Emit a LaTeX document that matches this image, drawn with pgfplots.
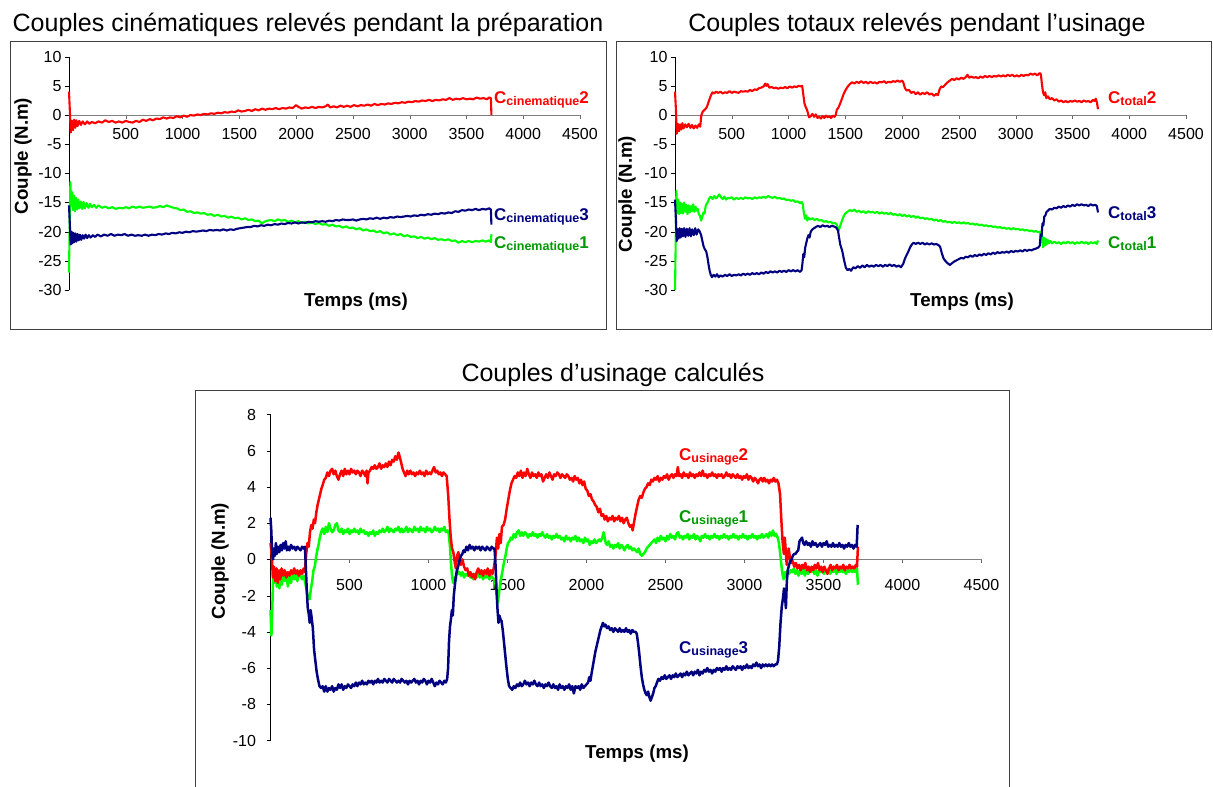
\documentclass[border=0pt]{standalone}
\usepackage{pgfplots}
\pgfplotsset{compat=1.18}
\usepackage{fontspec}
\setmainfont{Liberation Sans}
\definecolor{cred}{HTML}{FF0000}
\definecolor{cnavy}{HTML}{000080}
\definecolor{cgreen}{HTML}{00FF00}
\definecolor{lgreen}{HTML}{009900}
\definecolor{framegray}{HTML}{404040}

\newcommand{\serie}[2]{\fontsize{17}{17}\selectfont\bfseries C\raisebox{-2.5pt}{\fontsize{12.5}{12}\selectfont #1}#2}
\newcommand{\titre}{\fontsize{25}{25}\selectfont}
\newcommand{\axt}{\fontsize{18.7}{19}\selectfont\bfseries}

\pgfplotsset{
  panel/.style={
    scale only axis, clip=false,
    axis x line=middle, axis y line=left, axis line style={-},
    x axis line style={black!50}, y axis line style={black},
    xmin=0, xmax=4500, xtick={500,1000,...,4500},
    tick align=outside, major tick length=4pt,
    xtick style={black!60}, ytick style={black},
    tick label style={font=\fontsize{16}{16}\selectfont},
    /pgf/number format/assume math mode=true,
    /pgf/number format/1000 sep={},
    scaled ticks=false,
    every axis plot/.append style={line width=2.1pt, line join=round},
  }
}

\begin{document}
\begin{tikzpicture}
\useasboundingbox (0,0) rectangle (1213pt,-787pt);

% ---------- panneau 1 : couples cinematiques ----------
\draw[framegray, line width=1pt] (10pt,-41pt) rectangle (606pt,-329pt);
\node[anchor=base] at (308pt,-31pt) {\titre Couples cinématiques relevés pendant la préparation};
\begin{axis}[panel, at={(69pt,-290pt)}, anchor=south west,
  width=511pt, height=233.3pt, ymin=-30, ymax=10, ytick={-30,-25,...,10},
  xticklabel style={yshift=-6pt}]
\addplot[cgreen] coordinates {
(0,-27.0) (5,-20) (12,-11.5) (20,-15.5) (28,-13.2) (36,-16.3) (44,-13.8) (52,-16.5) (62,-14.2) (72,-16.2) (82,-14.5) (92,-16.0) (104,-14.8) (116,-16.1) (128,-14.9) (140,-16.0) (155,-15.1) (170,-15.9) (185,-15.2) (200,-15.8) (220,-15.4) (240,-15.9) (260,-15.5) (290,-15.9) (320,-15.7) (350,-16.0) (380,-15.8) (410,-16.1) (440,-15.9) (470,-16.0) (500,-15.8) (530,-16.0) (560,-15.7) (590,-15.9) (620,-15.7) (650,-15.9) (680,-15.8) (710,-15.7) (740,-15.9) (770,-15.8) (800,-15.6) (830,-15.8) (860,-15.5) (890,-15.7) (920,-15.9) (950,-16.0) (980,-16.3) (1010,-16.2) (1040,-16.6) (1070,-16.5) (1100,-16.8) (1130,-16.7) (1160,-16.9) (1190,-16.8) (1220,-17.1) (1250,-17.0) (1280,-17.3) (1310,-17.1) (1340,-17.4) (1370,-17.3) (1400,-17.6) (1430,-17.4) (1460,-17.7) (1490,-17.6) (1520,-17.9) (1550,-17.7) (1580,-18.0) (1610,-17.9) (1640,-18.2) (1670,-18.1) (1700,-18.6) (1720,-18.3) (1750,-18.1) (1780,-18.0) (1810,-18.2) (1840,-17.9) (1870,-18.1) (1900,-18.0) (1930,-18.3) (1960,-18.1) (1990,-18.4) (2020,-18.2) (2050,-18.5) (2080,-18.3) (2110,-18.6) (2140,-18.4) (2170,-18.7) (2200,-18.5) (2230,-18.8) (2260,-18.7) (2290,-19.0) (2320,-18.8) (2350,-19.1) (2380,-19.0) (2410,-19.3) (2440,-19.1) (2470,-19.4) (2500,-19.3) (2530,-19.6) (2560,-19.4) (2590,-19.8) (2620,-19.6) (2650,-19.9) (2680,-19.8) (2710,-20.1) (2740,-19.9) (2770,-20.3) (2800,-20.1) (2830,-20.5) (2860,-20.3) (2890,-20.6) (2920,-20.4) (2950,-20.8) (2980,-20.6) (3010,-20.9) (3040,-20.8) (3070,-21.1) (3100,-20.9) (3130,-21.2) (3160,-21.0) (3190,-21.3) (3220,-21.1) (3250,-21.4) (3280,-21.3) (3310,-21.5) (3340,-21.3) (3370,-21.6) (3400,-21.5) (3430,-21.9) (3460,-21.6) (3490,-21.8) (3520,-21.6) (3550,-21.8) (3580,-21.6) (3610,-21.7) (3640,-21.5) (3670,-21.7) (3700,-21.5) (3715,-21.8) (3720,-20.4)
};
\addplot[cred] coordinates {
(0,4.0) (8,0.5) (15,-3.0) (25,-1.0) (35,-2.6) (45,-0.8) (55,-2.2) (65,-0.9) (75,-1.9) (90,-1.0) (105,-1.7) (120,-1.1) (140,-1.6) (160,-1.1) (180,-1.5) (200,-1.2) (230,-1.4) (260,-1.1) (290,-1.3) (320,-0.9) (350,-1.2) (380,-1.0) (410,-1.3) (440,-1.1) (470,-1.3) (500,-1.0) (530,-1.2) (560,-1.3) (590,-1.0) (620,-1.2) (650,-0.8) (680,-1.0) (710,-0.7) (740,-0.9) (770,-0.6) (800,-0.7) (830,-0.4) (860,-0.6) (890,-0.4) (920,-0.5) (950,-0.2) (980,-0.4) (1010,-0.1) (1040,-0.3) (1070,0.0) (1100,-0.1) (1130,0.1) (1160,0.0) (1190,0.2) (1220,0.1) (1250,0.3) (1280,0.2) (1310,0.4) (1340,0.3) (1370,0.5) (1400,0.4) (1430,0.6) (1460,0.5) (1490,0.8) (1520,0.6) (1550,0.7) (1580,0.9) (1610,0.7) (1640,1.0) (1670,0.8) (1700,1.1) (1730,0.9) (1760,1.1) (1790,1.0) (1820,1.2) (1850,1.0) (1880,1.2) (1910,1.1) (1940,1.3) (1970,1.2) (2000,1.7) (2020,1.4) (2050,1.1) (2080,1.3) (2110,1.2) (2140,1.4) (2170,1.2) (2200,1.4) (2230,1.3) (2260,1.5) (2280,1.8) (2300,1.3) (2330,1.5) (2360,1.3) (2390,1.6) (2420,1.4) (2450,1.6) (2480,1.4) (2510,1.7) (2540,1.5) (2570,1.7) (2600,1.6) (2630,1.8) (2660,1.6) (2690,1.9) (2720,1.7) (2750,1.9) (2780,1.8) (2810,2.0) (2840,1.9) (2870,2.1) (2900,2.0) (2930,2.2) (2960,2.1) (2990,2.3) (3020,2.2) (3050,2.4) (3080,2.3) (3110,2.5) (3140,2.4) (3170,2.6) (3200,2.4) (3230,2.6) (3260,2.5) (3290,2.7) (3320,2.6) (3350,2.9) (3380,2.6) (3410,2.8) (3440,2.7) (3470,2.9) (3500,2.7) (3530,2.8) (3560,2.7) (3590,3.0) (3620,2.8) (3650,2.9) (3680,2.7) (3700,3.0) (3715,2.9) (3720,0.0)
};
\addplot[cnavy] coordinates {
(0,-15.5) (8,-19) (15,-22.2) (23,-20.0) (31,-22.0) (39,-20.2) (47,-21.8) (56,-20.3) (65,-21.7) (75,-20.4) (85,-21.5) (96,-20.5) (108,-21.4) (120,-20.6) (133,-21.2) (146,-20.5) (160,-21.1) (175,-20.6) (190,-21.0) (210,-20.6) (230,-20.9) (250,-20.5) (280,-20.8) (310,-20.5) (340,-20.7) (370,-20.4) (400,-20.7) (430,-20.5) (460,-20.6) (490,-20.4) (520,-20.7) (550,-20.5) (580,-20.7) (610,-20.6) (640,-20.7) (670,-20.5) (700,-20.7) (730,-20.5) (760,-20.6) (790,-20.4) (820,-20.5) (850,-20.3) (880,-20.4) (910,-20.2) (940,-20.3) (970,-20.1) (1000,-20.2) (1030,-20.0) (1060,-20.1) (1090,-19.9) (1120,-20.0) (1150,-19.9) (1180,-19.8) (1210,-19.9) (1240,-19.7) (1270,-19.8) (1300,-19.7) (1330,-19.8) (1360,-19.6) (1390,-19.8) (1420,-19.6) (1450,-19.7) (1480,-19.5) (1510,-19.4) (1540,-19.3) (1570,-19.2) (1600,-19.2) (1630,-19.0) (1660,-19.1) (1690,-18.9) (1720,-19.0) (1750,-18.8) (1780,-18.9) (1810,-18.7) (1840,-18.8) (1870,-18.6) (1900,-18.7) (1930,-18.5) (1960,-18.6) (1990,-18.4) (2020,-18.6) (2050,-18.4) (2080,-18.5) (2110,-18.3) (2140,-18.4) (2170,-18.2) (2200,-18.3) (2230,-18.2) (2260,-18.3) (2290,-18.1) (2320,-18.2) (2350,-18.0) (2380,-18.1) (2410,-17.9) (2440,-18.0) (2470,-18.0) (2500,-17.9) (2530,-18.1) (2560,-17.9) (2590,-17.8) (2620,-17.9) (2650,-17.7) (2680,-17.8) (2710,-17.6) (2740,-17.8) (2770,-17.6) (2800,-17.7) (2830,-17.5) (2860,-17.6) (2890,-17.4) (2920,-17.5) (2950,-17.4) (2980,-17.3) (3010,-17.4) (3040,-17.2) (3070,-17.3) (3100,-17.1) (3130,-17.2) (3160,-17.0) (3190,-17.1) (3220,-16.9) (3250,-17.0) (3280,-16.8) (3310,-16.9) (3340,-16.7) (3370,-16.8) (3400,-16.5) (3430,-16.6) (3460,-16.3) (3490,-16.4) (3520,-16.2) (3550,-16.3) (3580,-16.1) (3610,-16.3) (3640,-16.1) (3670,-16.2) (3700,-16.0) (3715,-16.2) (3720,-18.8)
};
\end{axis}
\node[anchor=base west, inner sep=0, text=cred] at (494pt,-103pt) {\serie{cinematique}{2}};
\node[anchor=base west, inner sep=0, text=cnavy] at (494pt,-220pt) {\serie{cinematique}{3}};
\node[anchor=base west, inner sep=0, text=lgreen] at (494pt,-248pt) {\serie{cinematique}{1}};
\node[rotate=90] at (23pt,-156pt) {\axt Couple (N.m)};
\node at (356pt,-302pt) {\axt Temps (ms)};

% ---------- panneau 2 : couples totaux ----------
\draw[framegray, line width=1pt] (616pt,-41pt) rectangle (1211.5pt,-329pt);
\node[anchor=base] at (917pt,-31pt) {\titre Couples totaux relevés pendant l’usinage};
\begin{axis}[panel, at={(675pt,-290pt)}, anchor=south west,
  width=511pt, height=233.3pt, ymin=-30, ymax=10, ytick={-30,-25,...,10},
  xticklabel style={yshift=-6pt}]
\addplot[cgreen] coordinates {
(0,-30.0) (6,-22) (12,-13.0) (20,-16.8) (28,-14.5) (36,-17.0) (44,-15.0) (52,-16.8) (60,-15.2) (70,-16.9) (80,-15.0) (90,-16.6) (100,-15.4) (110,-17.0) (120,-15.5) (130,-16.7) (140,-15.6) (150,-16.5) (160,-15.3) (170,-16.6) (180,-15.7) (190,-16.4) (200,-16.1) (210,-17.0) (220,-17.3) (230,-18.1) (240,-17.5) (250,-16.7) (260,-16.9) (270,-15.6) (280,-15.2) (290,-14.9) (300,-14.3) (315,-14.0) (330,-14.4) (345,-13.9) (360,-14.3) (375,-14.0) (390,-13.6) (405,-14.1) (420,-14.4) (435,-14.0) (450,-14.5) (465,-14.2) (480,-14.3) (500,-14.1) (520,-14.5) (540,-14.2) (560,-14.4) (580,-14.2) (600,-14.4) (620,-14.1) (640,-14.3) (660,-14.2) (680,-14.4) (700,-14.1) (720,-14.3) (740,-14.1) (760,-14.2) (780,-14.0) (800,-14.2) (820,-13.9) (840,-14.1) (860,-14.2) (880,-14.0) (900,-14.3) (920,-14.2) (940,-14.4) (960,-14.3) (980,-14.6) (1000,-14.5) (1020,-14.7) (1040,-14.6) (1060,-14.9) (1080,-14.8) (1100,-15.1) (1115,-14.9) (1125,-15.3) (1135,-16.8) (1145,-17.8) (1155,-17.2) (1165,-18.1) (1175,-17.6) (1190,-17.9) (1210,-17.7) (1230,-18.0) (1250,-17.8) (1270,-18.1) (1290,-18.0) (1310,-18.3) (1330,-18.2) (1350,-18.4) (1370,-18.3) (1390,-18.6) (1410,-18.5) (1425,-18.8) (1440,-19.9) (1450,-19.3) (1465,-18.4) (1480,-17.6) (1495,-17.0) (1510,-16.7) (1525,-16.5) (1540,-16.3) (1560,-16.5) (1580,-16.2) (1600,-16.6) (1620,-16.4) (1640,-16.7) (1660,-16.5) (1680,-16.8) (1700,-16.5) (1720,-16.7) (1740,-16.6) (1760,-16.8) (1780,-16.6) (1800,-16.9) (1820,-16.7) (1840,-16.9) (1860,-16.8) (1880,-17.0) (1900,-16.8) (1920,-17.1) (1940,-17.0) (1960,-17.2) (1980,-17.0) (2000,-17.3) (2020,-17.1) (2040,-17.4) (2060,-17.2) (2080,-17.5) (2100,-17.3) (2120,-17.6) (2140,-17.4) (2160,-17.7) (2180,-17.6) (2200,-17.8) (2220,-17.7) (2240,-17.9) (2260,-17.8) (2280,-18.1) (2300,-17.9) (2320,-18.2) (2340,-18.0) (2360,-18.3) (2380,-18.2) (2400,-18.4) (2420,-18.3) (2440,-18.5) (2460,-18.3) (2480,-18.5) (2500,-18.4) (2520,-18.6) (2540,-18.4) (2560,-18.6) (2580,-18.5) (2600,-18.7) (2620,-18.6) (2640,-18.8) (2660,-18.7) (2680,-18.9) (2700,-18.8) (2720,-19.0) (2740,-18.9) (2760,-19.1) (2780,-19.0) (2800,-19.2) (2820,-19.1) (2840,-19.3) (2860,-19.2) (2880,-19.4) (2900,-19.3) (2920,-19.5) (2940,-19.4) (2960,-19.6) (2980,-19.4) (3000,-19.6) (3020,-19.5) (3040,-19.7) (3060,-19.6) (3080,-19.8) (3100,-19.7) (3120,-19.9) (3140,-19.8) (3160,-20.0) (3180,-19.9) (3200,-20.1) (3215,-20.0) (3225,-21.8) (3232,-20.5) (3240,-22.7) (3248,-21.0) (3256,-22.4) (3264,-21.2) (3272,-22.2) (3282,-21.4) (3292,-22.0) (3305,-21.6) (3320,-22.0) (3340,-21.7) (3360,-22.0) (3380,-21.8) (3400,-22.1) (3420,-21.8) (3440,-22.0) (3460,-21.7) (3480,-22.0) (3500,-21.8) (3520,-22.1) (3540,-21.8) (3560,-22.0) (3580,-21.7) (3600,-22.0) (3620,-21.8) (3640,-22.1) (3660,-21.8) (3680,-22.0) (3700,-21.8) (3715,-22.1) (3725,-21.5)
};
\addplot[cred] coordinates {
(0,4.0) (8,1) (15,-3.2) (25,-1.5) (35,-2.8) (45,-1.6) (55,-2.5) (65,-1.4) (75,-2.3) (90,-1.6) (105,-2.1) (120,-1.5) (135,-2.2) (150,-1.7) (165,-2.3) (180,-1.8) (195,-2.2) (210,-1.6) (222,-2.0) (232,0.0) (245,0.6) (260,0.9) (272,1.1) (285,1.6) (300,2.5) (315,3.3) (330,3.9) (345,3.7) (360,4.0) (380,3.8) (400,4.0) (420,3.7) (440,3.9) (460,3.8) (480,4.1) (500,3.8) (520,4.0) (540,3.9) (560,3.8) (580,4.1) (600,4.0) (620,4.1) (640,4.0) (660,4.3) (680,4.1) (700,4.4) (720,4.3) (740,4.6) (760,4.7) (780,4.9) (795,5.4) (805,5.0) (815,5.3) (830,4.7) (850,4.8) (870,4.6) (890,4.7) (910,4.5) (930,4.7) (950,4.6) (970,4.8) (990,4.6) (1010,4.9) (1030,4.7) (1050,4.9) (1070,4.8) (1090,5.0) (1110,4.9) (1120,5.0) (1130,3.5) (1140,2.0) (1150,1.4) (1160,1.0) (1170,0.4) (1180,-0.4) (1195,-0.2) (1210,0.2) (1225,-0.3) (1240,0.1) (1255,-0.5) (1270,-0.3) (1285,-0.6) (1300,-0.2) (1315,-0.5) (1330,-0.1) (1345,-0.4) (1360,-0.2) (1375,-0.5) (1390,-0.1) (1405,-0.3) (1415,0.0) (1425,0.9) (1440,1.3) (1455,2.0) (1470,2.8) (1485,3.6) (1500,4.2) (1515,4.7) (1530,5.1) (1545,5.4) (1560,5.6) (1580,5.4) (1600,5.7) (1620,5.5) (1640,5.8) (1660,5.5) (1680,5.7) (1700,5.4) (1720,5.7) (1740,5.5) (1760,5.6) (1780,5.4) (1800,5.7) (1820,5.6) (1840,5.8) (1860,5.5) (1880,5.7) (1900,5.6) (1920,5.8) (1940,5.7) (1960,5.9) (1980,5.7) (2000,5.9) (2010,5.6) (2025,4.6) (2040,4.2) (2060,4.3) (2080,3.8) (2100,4.0) (2120,3.6) (2140,3.9) (2160,3.5) (2180,3.8) (2200,3.6) (2220,3.9) (2240,3.5) (2260,3.7) (2280,3.3) (2300,3.6) (2315,3.4) (2330,4.4) (2345,4.9) (2360,4.8) (2380,5.2) (2400,5.6) (2420,5.9) (2440,6.2) (2460,6.0) (2480,6.3) (2500,6.1) (2520,6.4) (2540,6.2) (2560,6.5) (2575,6.9) (2590,6.4) (2610,6.6) (2630,6.4) (2650,6.5) (2670,6.3) (2690,6.6) (2710,6.4) (2730,6.7) (2750,6.5) (2770,6.7) (2790,6.5) (2810,6.7) (2830,6.6) (2850,6.8) (2870,6.6) (2890,6.8) (2910,6.6) (2930,6.9) (2950,6.7) (2970,6.9) (2990,6.6) (3010,6.8) (3030,6.6) (3050,6.9) (3070,6.7) (3090,6.9) (3110,6.8) (3130,7.1) (3150,6.9) (3170,7.1) (3190,6.8) (3210,7.2) (3222,7.0) (3230,5.5) (3240,4.0) (3250,3.4) (3260,3.9) (3270,2.9) (3285,3.2) (3300,2.7) (3320,2.9) (3340,2.5) (3360,2.7) (3380,2.3) (3400,2.5) (3420,2.2) (3440,2.4) (3460,2.2) (3480,2.4) (3500,2.3) (3520,2.5) (3540,2.3) (3560,2.4) (3580,2.2) (3600,2.5) (3620,2.3) (3640,2.4) (3660,2.2) (3680,2.6) (3695,2.4) (3705,2.8) (3715,2.2) (3725,1.0)
};
\addplot[cnavy] coordinates {
(0,-14.5) (8,-18) (15,-21.6) (23,-19.6) (31,-21.2) (40,-19.4) (50,-21.0) (60,-19.5) (70,-20.8) (80,-19.4) (92,-20.9) (104,-19.5) (116,-20.7) (128,-19.4) (140,-20.8) (152,-19.6) (165,-20.6) (178,-19.4) (190,-20.5) (205,-19.6) (218,-20.0) (230,-20.6) (240,-21.5) (250,-22.4) (262,-23.0) (275,-23.4) (285,-24.3) (295,-25.6) (305,-26.7) (315,-27.4) (325,-27.8) (340,-27.4) (355,-27.7) (370,-27.3) (385,-27.8) (400,-27.5) (420,-27.7) (440,-27.4) (460,-27.6) (480,-27.3) (500,-27.6) (520,-27.4) (540,-27.5) (560,-27.3) (580,-27.5) (600,-27.2) (620,-27.4) (640,-27.2) (660,-27.4) (680,-27.1) (700,-27.3) (720,-27.1) (740,-27.3) (760,-27.0) (780,-27.2) (800,-26.9) (820,-27.1) (840,-26.8) (860,-27.0) (880,-26.8) (900,-27.0) (920,-26.7) (940,-26.9) (960,-26.7) (980,-26.9) (1000,-26.6) (1020,-26.8) (1040,-26.6) (1060,-26.8) (1080,-26.6) (1100,-26.9) (1115,-26.6) (1122,-25.5) (1130,-23.8) (1138,-24.4) (1146,-22.8) (1155,-22.0) (1165,-21.2) (1175,-20.6) (1185,-21.0) (1195,-20.0) (1210,-19.6) (1225,-19.4) (1240,-19.2) (1260,-19.0) (1280,-19.2) (1300,-18.9) (1320,-19.1) (1340,-19.0) (1360,-19.2) (1380,-19.0) (1400,-19.1) (1420,-19.3) (1435,-19.8) (1445,-21.0) (1455,-22.2) (1465,-22.8) (1475,-23.5) (1490,-25.0) (1505,-26.2) (1520,-26.6) (1535,-26.4) (1550,-26.7) (1570,-26.1) (1590,-26.3) (1610,-25.9) (1630,-26.2) (1650,-25.8) (1670,-26.1) (1690,-25.7) (1710,-26.0) (1730,-25.8) (1750,-26.0) (1770,-25.7) (1790,-25.9) (1810,-25.7) (1830,-26.0) (1850,-25.7) (1870,-25.9) (1890,-25.6) (1910,-25.9) (1930,-25.7) (1950,-26.0) (1970,-25.8) (1990,-26.1) (2010,-25.5) (2025,-24.6) (2040,-24.0) (2055,-23.4) (2070,-22.7) (2085,-22.2) (2100,-21.9) (2120,-22.1) (2140,-21.9) (2160,-22.1) (2180,-21.9) (2200,-22.2) (2220,-22.0) (2240,-22.2) (2260,-22.0) (2280,-22.2) (2300,-22.1) (2320,-22.3) (2335,-22.6) (2350,-23.7) (2365,-24.6) (2380,-25.0) (2400,-25.4) (2420,-25.7) (2440,-25.4) (2460,-25.1) (2480,-24.9) (2500,-24.7) (2520,-24.5) (2540,-24.6) (2560,-24.3) (2580,-24.4) (2600,-24.1) (2620,-24.3) (2640,-24.0) (2660,-24.2) (2680,-23.9) (2700,-24.1) (2720,-23.8) (2740,-24.0) (2760,-23.7) (2780,-23.9) (2800,-23.6) (2820,-23.8) (2840,-23.5) (2860,-23.7) (2880,-23.5) (2900,-23.6) (2920,-23.4) (2940,-23.6) (2960,-23.3) (2980,-23.5) (3000,-23.3) (3020,-23.4) (3040,-23.2) (3060,-23.4) (3080,-23.1) (3100,-23.3) (3120,-23.1) (3140,-23.2) (3160,-23.0) (3180,-22.9) (3200,-22.7) (3212,-22.4) (3220,-20.5) (3228,-20.8) (3236,-18.6) (3244,-18.9) (3252,-17.4) (3262,-17.2) (3272,-16.6) (3285,-16.4) (3300,-16.1) (3320,-16.2) (3340,-15.9) (3360,-16.0) (3380,-15.7) (3400,-15.9) (3420,-15.6) (3440,-15.8) (3460,-15.5) (3480,-15.7) (3500,-15.4) (3520,-15.6) (3540,-15.3) (3560,-15.5) (3580,-15.3) (3600,-15.5) (3620,-15.4) (3640,-15.6) (3660,-15.3) (3680,-15.5) (3700,-15.4) (3715,-15.6) (3725,-16.7)
};
\end{axis}
\node[anchor=base west, inner sep=0, text=cred] at (1108pt,-103pt) {\serie{total}{2}};
\node[anchor=base west, inner sep=0, text=cnavy] at (1108pt,-218pt) {\serie{total}{3}};
\node[anchor=base west, inner sep=0, text=lgreen] at (1108pt,-248pt) {\serie{total}{1}};
\node[rotate=90] at (627pt,-194pt) {\axt Couple (N.m)};
\node at (962pt,-302pt) {\axt Temps (ms)};

% ---------- panneau 3 : couples d'usinage ----------
\draw[framegray, line width=1pt] (195.5pt,-390pt) rectangle (1009pt,-800pt);
\node[anchor=base] at (613pt,-381pt) {\titre Couples d’usinage calculés};
\begin{axis}[panel, at={(270.5pt,-740.5pt)}, anchor=south west,
  width=711pt, height=326pt, ymin=-10, ymax=8, ytick={-10,-8,...,8},
  xticklabel style={yshift=-12pt}, yticklabel style={xshift=-7pt},
  every axis plot/.append style={line width=2.5pt}]
\addplot[cgreen] coordinates {
(0,-2.8) (6,-4.2) (12,-2.5) (18,-0.6) (25,-1.3) (32,-0.7) (40,-1.5) (48,-0.8) (56,-1.6) (64,-0.9) (72,-1.4) (80,-0.7) (90,-1.2) (100,-0.8) (110,-1.5) (120,-0.9) (130,-1.3) (140,-0.7) (150,-1.1) (160,-0.8) (170,-1.2) (180,-0.7) (190,-0.9) (200,-1.1) (210,-0.9) (220,-1.3) (230,-1.8) (240,-2.1) (248,-2.2) (256,-1.6) (264,-1.2) (272,-0.6) (280,-0.4) (288,0.1) (296,0.5) (304,0.8) (312,1.2) (320,1.5) (330,1.7) (340,1.4) (350,1.8) (360,1.5) (370,2.0) (380,1.7) (390,1.5) (400,1.6) (410,1.9) (420,2.0) (430,1.6) (440,1.5) (450,1.7) (460,1.4) (470,1.6) (480,1.5) (490,1.7) (500,1.4) (510,1.6) (520,1.5) (530,1.7) (540,1.5) (550,1.6) (560,1.4) (570,1.7) (580,1.5) (590,1.6) (600,1.4) (610,1.5) (620,1.3) (630,1.5) (640,1.4) (650,1.6) (660,1.3) (670,1.5) (680,1.4) (690,1.6) (700,1.5) (710,1.7) (720,1.5) (730,1.6) (740,1.8) (750,1.5) (760,1.7) (770,1.6) (780,1.5) (790,1.7) (800,1.6) (810,1.8) (820,1.5) (830,1.7) (840,1.5) (850,1.6) (860,1.8) (870,1.5) (880,1.7) (890,1.6) (900,1.5) (910,1.8) (920,1.6) (930,1.7) (940,1.5) (950,1.8) (960,1.6) (970,1.7) (980,1.5) (990,1.8) (1000,1.6) (1010,1.7) (1020,1.5) (1030,1.6) (1040,1.8) (1050,1.6) (1060,1.7) (1070,1.5) (1080,1.7) (1090,1.6) (1100,1.8) (1110,1.5) (1120,1.6) (1128,1.4) (1136,0.7) (1143,-0.3) (1150,-1.0) (1157,-1.3) (1164,-1.0) (1172,-1.2) (1180,-0.6) (1188,-0.8) (1196,-0.7) (1205,-0.9) (1215,-0.7) (1225,-1.0) (1235,-0.8) (1245,-0.9) (1255,-0.7) (1265,-1.0) (1275,-0.8) (1285,-1.1) (1295,-0.8) (1305,-1.0) (1315,-0.7) (1325,-1.0) (1335,-0.8) (1345,-1.1) (1355,-0.9) (1365,-1.0) (1375,-0.8) (1385,-1.1) (1395,-0.9) (1405,-1.0) (1415,-1.1) (1425,-1.4) (1433,-2.0) (1440,-2.4) (1447,-1.8) (1455,-1.3) (1463,-0.9) (1471,-0.5) (1479,-0.1) (1487,0.2) (1495,0.6) (1503,0.9) (1512,1.0) (1521,1.2) (1530,1.1) (1540,1.4) (1550,1.2) (1560,1.5) (1570,1.6) (1580,1.3) (1590,1.5) (1600,1.3) (1610,1.5) (1620,1.4) (1630,1.2) (1640,1.4) (1650,1.3) (1660,1.5) (1670,1.3) (1680,1.4) (1690,1.2) (1700,1.4) (1710,1.3) (1720,1.5) (1730,1.3) (1740,1.2) (1750,1.4) (1760,1.2) (1770,1.3) (1780,1.1) (1790,1.3) (1800,1.2) (1810,1.4) (1820,1.2) (1830,1.3) (1840,1.1) (1850,1.2) (1860,1.0) (1870,1.3) (1880,1.1) (1890,1.2) (1900,1.0) (1910,1.2) (1920,1.1) (1930,1.3) (1940,1.0) (1950,1.2) (1960,1.0) (1970,1.1) (1980,0.9) (1990,1.2) (2000,1.0) (2010,1.1) (2020,0.8) (2030,1.0) (2040,0.9) (2050,1.1) (2060,0.9) (2070,1.0) (2080,1.1) (2090,1.0) (2100,1.2) (2108,1.5) (2115,1.2) (2122,0.9) (2130,0.8) (2140,1.0) (2150,0.7) (2160,0.8) (2170,0.6) (2180,0.8) (2190,0.7) (2200,0.9) (2210,0.6) (2220,0.8) (2230,0.7) (2240,0.5) (2250,0.7) (2260,0.8) (2270,0.6) (2280,0.7) (2290,0.5) (2300,0.6) (2310,0.5) (2320,0.4) (2330,0.6) (2340,0.3) (2350,0.2) (2360,0.3) (2370,0.4) (2380,0.6) (2390,0.7) (2400,0.8) (2410,0.9) (2420,1.0) (2430,1.1) (2440,0.9) (2450,1.2) (2460,1.0) (2470,1.3) (2480,1.1) (2490,1.2) (2500,1.0) (2510,1.3) (2520,1.1) (2530,1.4) (2540,1.2) (2550,1.3) (2560,1.1) (2570,1.4) (2580,1.5) (2590,1.2) (2600,1.3) (2610,1.1) (2620,1.3) (2630,1.2) (2640,1.4) (2650,1.1) (2660,1.3) (2670,1.2) (2680,1.4) (2690,1.1) (2700,1.3) (2710,1.2) (2720,1.0) (2730,1.3) (2740,1.2) (2750,1.4) (2760,1.2) (2770,1.3) (2780,1.1) (2790,1.3) (2800,1.2) (2810,1.4) (2820,1.2) (2830,1.3) (2840,1.1) (2850,1.3) (2860,1.2) (2870,1.4) (2880,1.2) (2890,1.3) (2900,1.1) (2910,1.3) (2920,1.2) (2930,1.4) (2940,1.2) (2950,1.3) (2960,1.1) (2970,1.3) (2980,1.2) (2990,1.4) (3000,1.2) (3010,1.3) (3020,1.1) (3030,1.3) (3040,1.2) (3050,1.4) (3060,1.2) (3070,1.3) (3080,1.1) (3090,1.3) (3100,1.2) (3110,1.4) (3120,1.2) (3130,1.3) (3140,1.4) (3150,1.2) (3160,1.5) (3170,1.3) (3180,1.6) (3190,1.3) (3200,1.4) (3210,1.2) (3218,0.9) (3225,0.4) (3232,-0.2) (3240,-0.8) (3248,-1.1) (3256,-0.7) (3264,-1.0) (3272,-0.6) (3282,-0.8) (3292,-0.6) (3302,-0.7) (3312,-0.5) (3322,-0.8) (3332,-0.6) (3342,-0.9) (3352,-0.6) (3362,-0.8) (3372,-0.5) (3382,-0.9) (3392,-0.6) (3402,-0.8) (3412,-0.6) (3422,-0.7) (3432,-0.5) (3442,-0.8) (3452,-0.6) (3462,-0.9) (3472,-0.6) (3482,-0.7) (3492,-0.5) (3502,-0.8) (3512,-0.6) (3522,-0.7) (3532,-0.5) (3542,-0.8) (3552,-0.6) (3562,-0.7) (3572,-0.5) (3582,-0.8) (3592,-0.6) (3602,-0.7) (3612,-0.5) (3622,-0.7) (3632,-0.6) (3642,-0.8) (3652,-0.6) (3662,-0.7) (3672,-0.5) (3682,-0.7) (3692,-0.6) (3702,-0.7) (3712,-0.5) (3718,-1.4)
};
\addplot[cred] coordinates {
(0,0.9) (8,0.2) (15,-1.0) (22,-0.4) (30,-1.2) (38,-0.5) (46,-1.3) (54,-0.6) (62,-1.1) (70,-0.5) (80,-0.9) (90,-0.6) (100,-1.0) (110,-0.7) (120,-0.9) (130,-0.6) (140,-0.8) (150,-0.5) (160,-0.8) (170,-0.6) (180,-0.9) (190,-0.6) (200,-0.8) (210,-0.5) (218,-0.7) (226,0.3) (234,0.9) (242,0.7) (250,1.5) (258,1.9) (266,1.7) (274,2.2) (282,2.0) (290,2.6) (298,3.0) (306,3.3) (314,3.6) (322,3.9) (330,4.1) (340,4.4) (350,4.5) (360,4.8) (370,4.6) (380,4.9) (390,5.0) (400,4.7) (410,4.9) (420,4.6) (430,4.4) (440,4.7) (450,4.9) (460,4.6) (470,5.0) (480,4.7) (490,4.9) (500,4.7) (510,5.0) (520,4.8) (530,4.9) (540,4.7) (550,4.9) (560,4.8) (570,4.6) (580,4.9) (590,4.8) (600,4.6) (608,4.9) (614,4.2) (620,4.8) (630,4.9) (640,5.1) (650,5.0) (660,5.2) (670,5.0) (680,5.1) (690,5.3) (700,5.0) (710,5.2) (720,5.1) (730,5.3) (740,5.1) (750,5.4) (760,5.2) (770,5.5) (780,5.4) (790,5.7) (800,5.5) (810,5.9) (820,5.6) (828,5.3) (836,5.0) (845,4.8) (855,4.6) (865,4.9) (875,4.7) (885,4.9) (895,4.7) (905,4.8) (915,4.6) (925,4.8) (935,4.7) (945,4.9) (955,4.7) (965,4.8) (975,4.6) (985,4.9) (995,4.7) (1005,4.8) (1015,4.7) (1025,4.9) (1035,5.1) (1045,4.8) (1055,4.9) (1065,4.7) (1075,4.8) (1085,4.6) (1095,4.8) (1105,4.7) (1115,4.6) (1125,3.5) (1133,2.2) (1141,1.2) (1149,0.6) (1157,0.4) (1165,-0.1) (1173,-0.5) (1181,0.2) (1189,0.4) (1197,0.0) (1205,-0.3) (1215,0.0) (1225,-0.4) (1235,-0.6) (1245,-0.5) (1255,-0.9) (1265,-0.7) (1275,-1.0) (1285,-0.8) (1295,-1.1) (1305,-0.7) (1315,-0.5) (1325,-0.8) (1335,-0.6) (1345,-0.9) (1355,-0.6) (1365,-0.8) (1375,-0.5) (1385,-0.9) (1395,-0.6) (1405,-0.8) (1415,-0.4) (1425,0.3) (1433,1.2) (1441,0.6) (1449,1.4) (1457,0.9) (1465,1.8) (1475,1.9) (1485,2.2) (1495,2.8) (1505,3.3) (1515,3.8) (1525,4.2) (1535,4.4) (1545,4.6) (1555,4.5) (1565,4.8) (1575,4.6) (1585,4.9) (1595,4.5) (1605,4.8) (1615,4.6) (1625,5.0) (1635,4.7) (1645,4.5) (1655,4.8) (1665,4.6) (1675,4.7) (1685,4.5) (1695,4.8) (1705,4.6) (1715,4.7) (1725,4.3) (1735,4.5) (1745,4.7) (1755,4.5) (1765,4.8) (1775,4.6) (1785,4.4) (1795,4.7) (1805,4.6) (1815,4.8) (1825,4.7) (1835,4.5) (1845,4.7) (1855,4.6) (1865,4.5) (1875,4.7) (1885,4.6) (1895,4.4) (1905,4.5) (1915,4.3) (1925,4.6) (1935,4.4) (1945,4.5) (1955,4.2) (1965,4.4) (1975,4.1) (1985,4.3) (1995,3.9) (2005,3.8) (2015,3.5) (2025,3.6) (2035,3.3) (2045,3.2) (2055,3.0) (2065,2.9) (2075,2.6) (2085,2.8) (2095,2.4) (2105,2.5) (2115,2.2) (2125,2.4) (2135,2.1) (2145,2.3) (2155,2.2) (2165,2.4) (2175,2.1) (2185,2.3) (2195,2.2) (2205,2.4) (2215,2.1) (2225,2.3) (2235,2.0) (2245,2.2) (2255,2.3) (2265,2.0) (2275,1.8) (2285,1.9) (2292,1.6) (2300,2.0) (2310,2.5) (2320,2.9) (2330,3.3) (2340,3.5) (2350,3.4) (2360,3.7) (2370,3.9) (2380,4.0) (2390,4.2) (2400,4.1) (2410,4.4) (2420,4.3) (2430,4.5) (2440,4.4) (2450,4.6) (2460,4.3) (2470,4.5) (2480,4.4) (2490,4.6) (2500,4.5) (2510,4.7) (2520,4.4) (2530,4.6) (2540,4.7) (2550,4.5) (2560,4.7) (2570,4.6) (2578,5.1) (2586,4.6) (2595,4.7) (2605,4.5) (2615,4.8) (2625,4.6) (2635,4.7) (2645,4.5) (2655,4.8) (2665,4.6) (2675,4.7) (2685,4.5) (2695,4.7) (2705,4.6) (2715,4.8) (2725,4.6) (2735,4.9) (2745,4.6) (2755,4.7) (2765,4.5) (2775,4.7) (2785,4.6) (2795,4.8) (2805,4.6) (2815,4.7) (2825,4.5) (2835,4.7) (2845,4.6) (2855,4.7) (2865,4.5) (2875,4.6) (2885,4.8) (2895,4.6) (2905,4.7) (2915,4.5) (2925,4.7) (2935,4.6) (2945,4.5) (2955,4.7) (2965,4.5) (2975,4.6) (2985,4.4) (2995,4.6) (3005,4.5) (3015,4.7) (3025,4.4) (3035,4.6) (3045,4.5) (3055,4.3) (3065,4.5) (3075,4.4) (3085,4.2) (3095,4.4) (3105,4.5) (3115,4.3) (3125,4.5) (3135,4.3) (3145,4.4) (3155,4.2) (3165,4.4) (3175,4.3) (3185,4.5) (3195,4.3) (3205,4.4) (3215,4.2) (3225,3.6) (3233,2.2) (3241,1.0) (3249,0.3) (3255,1.2) (3261,0.5) (3267,-0.3) (3273,0.2) (3280,0.6) (3287,0.1) (3295,-0.2) (3305,-0.1) (3315,-0.4) (3325,-0.2) (3335,-0.5) (3345,-0.3) (3355,-0.6) (3365,-0.3) (3375,-0.5) (3385,-0.2) (3395,-0.6) (3405,-0.4) (3415,-0.7) (3425,-0.4) (3435,-0.6) (3445,-0.3) (3455,-0.5) (3465,-0.2) (3475,-0.6) (3485,-0.4) (3495,-0.7) (3505,-0.4) (3515,-0.6) (3525,-0.8) (3535,-0.5) (3545,-0.3) (3555,-0.6) (3565,-0.4) (3575,-0.5) (3585,-0.3) (3595,-0.6) (3605,-0.4) (3615,-0.5) (3625,-0.3) (3635,-0.6) (3645,-0.4) (3655,-0.5) (3665,-0.3) (3675,-0.5) (3685,-0.4) (3695,-0.5) (3705,-0.3) (3712,-0.4) (3718,0.7)
};
\addplot[cnavy] coordinates {
(0,2.3) (5,1.6) (10,0.4) (16,0.0) (22,0.6) (28,0.2) (34,0.9) (40,0.3) (48,0.7) (56,0.4) (64,0.8) (72,0.5) (80,0.9) (88,0.6) (96,1.0) (104,0.5) (112,0.7) (120,0.5) (130,0.8) (140,0.6) (150,0.7) (160,0.5) (170,0.7) (180,0.6) (190,0.5) (200,0.7) (210,0.6) (218,0.7) (224,-0.5) (230,-1.8) (236,-2.7) (242,-3.0) (248,-3.5) (254,-2.8) (260,-3.2) (268,-3.8) (276,-5.0) (284,-5.6) (292,-6.2) (300,-6.6) (310,-7.0) (320,-7.1) (330,-7.0) (340,-7.3) (350,-7.0) (360,-7.3) (370,-7.1) (380,-7.2) (390,-7.0) (400,-7.3) (410,-7.1) (420,-7.2) (430,-6.9) (440,-7.1) (450,-6.9) (460,-7.2) (470,-7.0) (480,-7.1) (490,-6.9) (500,-7.0) (510,-7.1) (520,-6.9) (530,-7.0) (540,-6.8) (550,-7.0) (560,-6.8) (570,-6.9) (580,-6.7) (590,-6.9) (600,-6.8) (610,-6.9) (620,-6.7) (630,-6.8) (640,-6.7) (650,-6.9) (660,-6.7) (670,-6.8) (680,-6.6) (690,-6.8) (700,-6.7) (710,-6.8) (720,-6.6) (730,-6.7) (740,-6.8) (750,-6.6) (760,-6.7) (770,-6.8) (780,-6.6) (790,-6.7) (800,-6.8) (810,-6.7) (820,-6.8) (830,-6.6) (840,-6.7) (850,-6.8) (860,-6.7) (870,-6.9) (880,-6.7) (890,-6.8) (900,-6.7) (910,-6.6) (920,-6.8) (930,-6.7) (940,-6.9) (950,-6.7) (960,-6.8) (970,-6.6) (980,-6.7) (990,-6.9) (1000,-6.7) (1010,-6.8) (1020,-6.6) (1030,-6.8) (1040,-7.0) (1050,-6.8) (1060,-6.9) (1070,-6.7) (1080,-6.8) (1090,-6.9) (1100,-6.7) (1110,-6.8) (1118,-6.6) (1124,-6.0) (1130,-4.5) (1136,-3.7) (1142,-3.3) (1148,-2.8) (1154,-3.1) (1160,-2.0) (1166,-1.5) (1172,-1.0) (1178,-0.7) (1184,-0.5) (1190,-0.3) (1198,0.0) (1206,0.2) (1214,0.3) (1222,0.5) (1230,0.4) (1240,0.7) (1250,0.5) (1260,0.8) (1270,0.6) (1280,0.7) (1290,0.5) (1300,0.7) (1310,0.6) (1320,0.7) (1330,0.5) (1340,0.7) (1350,0.6) (1360,0.5) (1370,0.7) (1380,0.6) (1390,0.5) (1400,0.7) (1410,0.6) (1418,0.6) (1425,-0.4) (1431,-1.8) (1437,-2.8) (1443,-3.5) (1449,-3.1) (1455,-3.3) (1462,-3.4) (1470,-3.9) (1478,-4.6) (1486,-5.3) (1494,-6.0) (1502,-6.6) (1510,-7.0) (1520,-7.1) (1530,-7.2) (1540,-7.0) (1550,-7.1) (1560,-6.9) (1570,-7.0) (1580,-6.8) (1590,-7.0) (1600,-6.9) (1610,-6.7) (1620,-6.9) (1630,-6.8) (1640,-7.0) (1650,-6.8) (1660,-6.9) (1670,-6.7) (1680,-6.9) (1690,-7.0) (1700,-6.8) (1710,-7.0) (1720,-6.9) (1730,-7.1) (1740,-6.9) (1750,-7.0) (1760,-6.8) (1770,-7.0) (1780,-7.1) (1790,-6.9) (1800,-7.1) (1810,-7.0) (1820,-7.2) (1830,-6.9) (1840,-7.1) (1850,-7.0) (1860,-7.2) (1870,-7.0) (1880,-7.1) (1890,-6.9) (1900,-7.2) (1910,-7.0) (1920,-7.4) (1930,-7.0) (1940,-7.1) (1950,-7.0) (1960,-7.2) (1970,-6.9) (1980,-7.1) (1990,-7.0) (2000,-6.9) (2010,-6.8) (2018,-6.5) (2025,-6.7) (2032,-6.3) (2040,-5.9) (2048,-5.5) (2056,-5.1) (2064,-4.8) (2072,-4.5) (2080,-4.2) (2088,-3.9) (2096,-3.7) (2104,-3.5) (2112,-3.7) (2120,-3.6) (2130,-3.8) (2140,-3.7) (2150,-3.9) (2160,-3.8) (2170,-4.0) (2180,-3.8) (2190,-3.9) (2200,-4.0) (2210,-3.8) (2220,-4.0) (2230,-3.9) (2240,-4.0) (2250,-3.8) (2260,-4.0) (2270,-3.9) (2280,-4.1) (2290,-3.9) (2300,-4.0) (2310,-4.0) (2318,-4.1) (2326,-4.6) (2334,-5.2) (2342,-5.9) (2350,-6.5) (2358,-6.9) (2366,-7.2) (2374,-7.4) (2382,-7.5) (2390,-7.3) (2398,-7.6) (2406,-7.8) (2414,-7.6) (2422,-7.4) (2430,-7.1) (2438,-7.0) (2446,-6.8) (2455,-6.6) (2465,-6.7) (2475,-6.5) (2485,-6.6) (2495,-6.4) (2505,-6.6) (2515,-6.5) (2525,-6.4) (2535,-6.6) (2545,-6.4) (2555,-6.5) (2565,-6.3) (2575,-6.5) (2585,-6.4) (2595,-6.3) (2605,-6.5) (2615,-6.3) (2625,-6.4) (2635,-6.2) (2645,-6.4) (2655,-6.3) (2665,-6.2) (2675,-6.4) (2685,-6.2) (2695,-6.3) (2705,-6.1) (2715,-6.4) (2725,-6.2) (2735,-6.3) (2745,-6.1) (2755,-6.2) (2765,-6.0) (2775,-6.2) (2785,-6.1) (2795,-6.3) (2805,-6.1) (2815,-6.2) (2825,-6.0) (2835,-6.1) (2845,-6.0) (2855,-6.2) (2865,-6.0) (2875,-6.1) (2885,-5.9) (2895,-6.1) (2905,-6.0) (2915,-6.1) (2925,-5.9) (2935,-6.0) (2945,-6.1) (2955,-5.9) (2965,-6.0) (2975,-5.9) (2985,-6.1) (2995,-5.9) (3005,-6.0) (3015,-5.8) (3025,-6.0) (3035,-5.9) (3045,-6.0) (3055,-5.8) (3065,-5.9) (3075,-5.7) (3085,-5.9) (3095,-5.8) (3105,-6.0) (3115,-5.8) (3125,-5.9) (3135,-5.8) (3145,-5.9) (3155,-5.8) (3165,-5.9) (3175,-5.8) (3185,-5.9) (3195,-5.8) (3205,-5.8) (3212,-5.6) (3220,-4.8) (3228,-3.5) (3236,-2.6) (3244,-2.1) (3250,-1.6) (3256,-2.0) (3262,-2.7) (3268,-1.2) (3274,-0.6) (3282,-0.3) (3290,-0.1) (3298,0.0) (3306,0.2) (3314,0.3) (3322,0.3) (3330,0.4) (3340,0.5) (3348,1.0) (3356,1.1) (3364,1.2) (3372,0.9) (3380,0.8) (3390,1.0) (3400,0.8) (3410,0.9) (3420,0.7) (3430,1.0) (3440,0.8) (3450,0.9) (3460,0.7) (3470,0.8) (3480,0.9) (3490,0.7) (3500,0.9) (3510,0.8) (3520,1.0) (3530,0.7) (3540,0.8) (3550,0.7) (3560,0.9) (3570,0.7) (3580,0.8) (3590,0.7) (3600,0.9) (3610,0.7) (3620,0.8) (3630,0.6) (3640,0.8) (3650,0.7) (3660,0.9) (3670,0.7) (3680,0.8) (3690,0.6) (3700,0.8) (3710,0.7) (3716,1.9)
};
\end{axis}
\node[anchor=base west, inner sep=0, text=cred] at (679pt,-460pt) {\serie{usinage}{2}};
\node[anchor=base west, inner sep=0, text=lgreen] at (679pt,-522pt) {\serie{usinage}{1}};
\node[anchor=base west, inner sep=0, text=cnavy] at (679pt,-653pt) {\serie{usinage}{3}};
\node[rotate=90] at (220pt,-561pt) {\axt Couple (N.m)};
\node at (637pt,-754pt) {\axt Temps (ms)};
\end{tikzpicture}
\end{document}
